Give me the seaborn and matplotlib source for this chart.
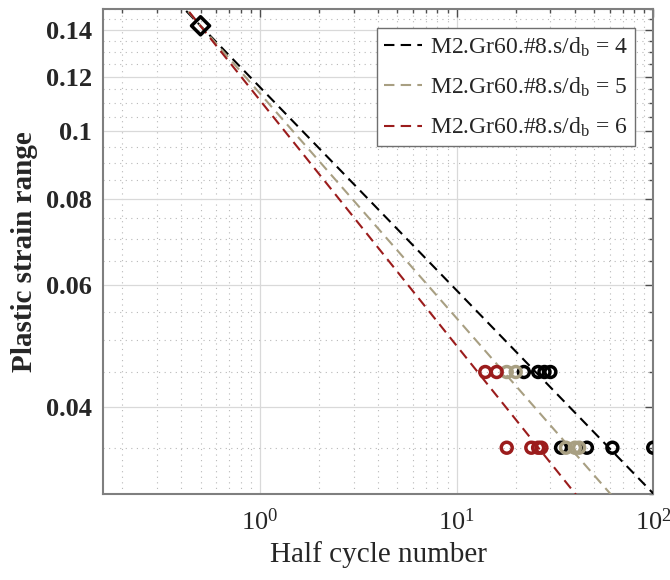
import numpy as np
import pandas as pd
import matplotlib
matplotlib.use("Agg")
import matplotlib.pyplot as plt
import seaborn as sns
from matplotlib.ticker import FixedLocator, FixedFormatter, NullFormatter, LogLocator

# ---- data -------------------------------------------------------------
series_labels = [
    r"M2.Gr60.#8.s/d$_\mathrm{b}$ = 4",
    r"M2.Gr60.#8.s/d$_\mathrm{b}$ = 5",
    r"M2.Gr60.#8.s/d$_\mathrm{b}$ = 6",
]
series_colors = ["#000000", "#A89F82", "#9B1C1C"]

# Coffin-Manson fits: strain range = C * N^b
fit_C = [0.1159, 0.1135, 0.1110]
fit_b = [-0.293, -0.324, -0.354]

# half cycle numbers and plastic strain ranges of the test points
cycles_s4 = [22, 26, 28, 30, 34, 46, 62, 100]
strain_s4 = [0.045, 0.045, 0.045, 0.045, 0.035, 0.035, 0.035, 0.035]
cycles_s5 = [18, 20, 36, 40, 42]
strain_s5 = [0.045, 0.045, 0.035, 0.035, 0.035]
cycles_s6 = [14, 16, 18, 24, 26, 27]
strain_s6 = [0.045, 0.045, 0.035, 0.035, 0.035, 0.035]

# common anchor point (first half cycle)
anchor_cycle = [0.5]
anchor_strain = [0.142]

fit_range = [0.3, 120.0]

y_major = [0.04, 0.06, 0.08, 0.1, 0.12, 0.14]
y_major_labels = ["0.04", "0.06", "0.08", "0.1", "0.12", "0.14"]
x_major = [1, 10, 100]
x_major_labels = [r"$10^{0}$", r"$10^{1}$", r"$10^{2}$"]

# ---- style ------------------------------------------------------------
sns.set_theme(style="white")
plt.rcParams["font.family"] = ["Liberation Serif", "DejaVu Serif"]
plt.rcParams["mathtext.fontset"] = "custom"
plt.rcParams["mathtext.rm"] = "Liberation Serif"
plt.rcParams["mathtext.it"] = "Liberation Serif:italic"
plt.rcParams["mathtext.bf"] = "Liberation Serif:bold"

fig, ax = plt.subplots(figsize=(6.7, 5.8), dpi=100)
fig.subplots_adjust(left=0.154, right=0.975, bottom=0.148, top=0.984)

dash = (0, (5, 3))
points = [(cycles_s4, strain_s4), (cycles_s5, strain_s5), (cycles_s6, strain_s6)]

for lab, col, C, b in zip(series_labels, series_colors, fit_C, fit_b):
    xs = np.array(fit_range)
    line_df = pd.DataFrame({"N": xs, "eps": C * xs ** b})
    sns.lineplot(data=line_df, x="N", y="eps", ax=ax, color=col,
                 linestyle=dash, linewidth=1.5, label=lab, zorder=3)

for (cx, sy), col in zip(points, series_colors):
    pts = pd.DataFrame({"N": cx, "eps": sy})
    sns.scatterplot(data=pts, x="N", y="eps", ax=ax, marker="o", s=62,
                    color=col, facecolor="none", edgecolor=col,
                    linewidth=2.5, zorder=4, legend=False)

anchor_df = pd.DataFrame({"N": anchor_cycle, "eps": anchor_strain})
sns.scatterplot(data=anchor_df, x="N", y="eps", ax=ax, marker="D", s=85,
                color="black", facecolor="none", edgecolor="black",
                linewidth=2.5, zorder=5, legend=False)

# ---- axes -------------------------------------------------------------
ax.set_xscale("log")
ax.set_yscale("log")
ax.set_xlim(0.16, 100)
ax.set_ylim(0.03, 0.15)

ax.xaxis.set_major_locator(FixedLocator(x_major))
ax.xaxis.set_major_formatter(FixedFormatter(x_major_labels))
ax.xaxis.set_minor_locator(LogLocator(base=10, subs=np.arange(2, 10)))
ax.xaxis.set_minor_formatter(NullFormatter())

y_minor = [v for v in np.round(np.arange(0.03, 0.1501, 0.005), 3)
           if not any(abs(v - m) < 1e-9 for m in y_major)]
ax.yaxis.set_major_locator(FixedLocator(y_major))
ax.yaxis.set_major_formatter(FixedFormatter(y_major_labels))
ax.yaxis.set_minor_locator(FixedLocator(y_minor))
ax.yaxis.set_minor_formatter(NullFormatter())

ax.grid(True, which="major", color="#d9d9d9", linestyle="-", linewidth=0.9)
ax.grid(True, which="minor", color="#b8b8b8", linestyle=(0, (1, 4)), linewidth=0.8)
ax.set_axisbelow(True)

for sp in ax.spines.values():
    sp.set_visible(True)
    sp.set_color("#7f7f7f")
    sp.set_linewidth(1.5)

ax.tick_params(which="both", direction="in", top=True, right=True,
               color="#4d4d4d", width=1.0)
ax.tick_params(which="major", length=6, pad=8)
ax.tick_params(which="minor", length=3)
ax.tick_params(axis="y", which="major", labelsize=19)
ax.tick_params(axis="x", which="major", labelsize=19, pad=10)
for t in ax.get_yticklabels():
    t.set_fontweight("bold")

ax.set_xlabel("Half cycle number", fontsize=21, labelpad=5, color="#262626")
ax.set_ylabel("Plastic strain range", fontsize=21, fontweight="bold",
              labelpad=6, color="#262626")

leg = ax.legend(loc="upper right", bbox_to_anchor=(0.967, 0.961),
                fontsize=17, frameon=True, fancybox=False, framealpha=1,
                edgecolor="#6f6f6f", handlelength=1.6, handletextpad=0.35,
                labelspacing=0.72, borderpad=0.3, borderaxespad=0)
leg.get_frame().set_linewidth(1.0)

fig.savefig("out.png", dpi=100)
